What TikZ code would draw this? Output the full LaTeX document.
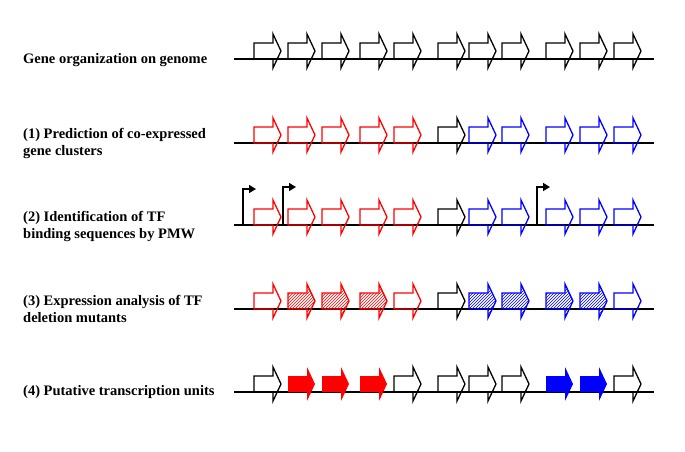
\documentclass[tikz,border=0pt]{standalone}
\usepackage{fontspec}
\setmainfont{Liberation Serif}
\usetikzlibrary{patterns,arrows.meta}
\tikzset{
  gene/.pic={\path[pic actions] (0,-8) -- (19,-8) -- (19,-17) -- (27,0) -- (19,17) -- (19,8) -- (0,8) -- cycle;},
  gk/.style={draw=black},
  gr/.style={draw=red},
  gb/.style={draw=blue},
  grh/.style={draw=red, pattern=north east lines, pattern color=red},
  gbh/.style={draw=blue, pattern=north east lines, pattern color=blue},
  grf/.style={fill=red},
  gbf/.style={fill=blue},
  genome/.style={line width=2pt},
  lbl/.style={font=\bfseries\fontsize{14.5}{17}\selectfont, align=left, anchor=west, inner sep=0pt},
  flag/.style={line width=1.6pt, -{Triangle[length=7pt,width=8pt]}},
}
\begin{document}
\begin{tikzpicture}[x=1pt,y=-1pt, line join=miter]
\useasboundingbox (0,0) rectangle (685,451);
% labels
\node[lbl] (l0) at (23,60) {Gene organization on genome};
\node[lbl] (l1) at (23,143.5) {(1) Prediction of co-expressed\\gene clusters};
\node[lbl] (l2) at (23,226.5) {(2) Identification of TF\\binding sequences by PMW};
\node[lbl] (l3) at (23,308.5) {(3) Expression analysis of TF\\deletion mutants};
\node[lbl] (l4) at (23,392) {(4) Putative transcription units};
% genome lines
\draw[genome] (234,59) -- (654,59);
\draw[genome] (234,143) -- (654,143);
\draw[genome] (234,225) -- (654,225);
\draw[genome] (234,309) -- (654,309);
\draw[genome] (234,392) -- (654,392);
% genes
\begin{scope}[line width=1.3pt]
\foreach \x/\s in {254/gk,288/gk,322/gk,360/gk,394/gk,438/gk,469/gk,502/gk,546/gk,580/gk,614/gk}
  \pic[\s] at (\x,51) {gene};
\foreach \x/\s in {254/gr,288/gr,322/gr,360/gr,394/gr,438/gk,469/gb,502/gb,546/gb,580/gb,614/gb}
  \pic[\s] at (\x,135) {gene};
\foreach \x/\s in {254/gr,288/gr,322/gr,360/gr,394/gr,438/gk,469/gb,502/gb,546/gb,580/gb,614/gb}
  \pic[\s] at (\x,217) {gene};
\foreach \x/\s in {254/gr,288/grh,322/grh,360/grh,394/gr,438/gk,469/gbh,502/gbh,546/gbh,580/gbh,614/gb}
  \pic[\s] at (\x,301) {gene};
\foreach \x/\s in {254/gk,288/grf,322/grf,360/grf,394/gk,438/gk,469/gk,502/gk,546/gbf,580/gbf,614/gk}
  \pic[\s] at (\x,384) {gene};
\end{scope}
% promoters
\coordinate (p1a) at (243,225); \coordinate (p1b) at (243,189); \coordinate (p1c) at (256,189);
\coordinate (p2a) at (283,225); \coordinate (p2b) at (283,187); \coordinate (p2c) at (296,187);
\coordinate (p3a) at (537,225); \coordinate (p3b) at (537,187); \coordinate (p3c) at (550,187);
\draw[flag] (p1a) -- (p1b) -- (p1c);
\draw[flag] (p2a) -- (p2b) -- (p2c);
\draw[flag] (p3a) -- (p3b) -- (p3c);
\end{tikzpicture}
\end{document}
